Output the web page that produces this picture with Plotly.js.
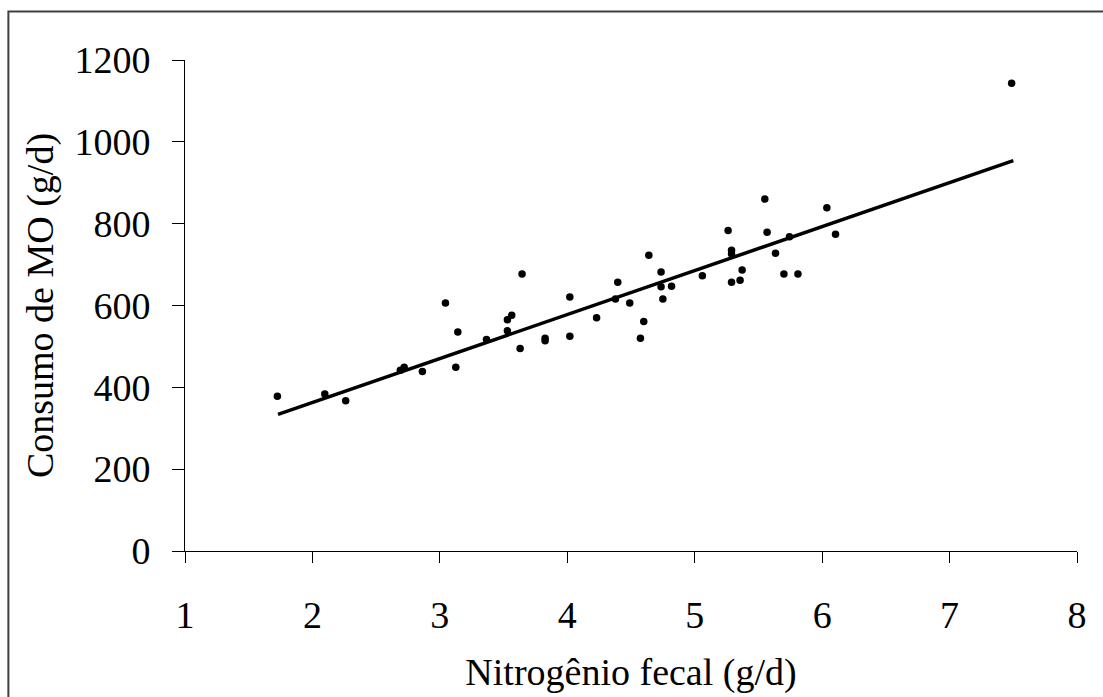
<!DOCTYPE html>
<html>
<head>
<meta charset="utf-8">
<script src="https://cdn.plot.ly/plotly-3.0.1.min.js"></script>
<style>html,body{margin:0;padding:0;background:#fff;}#chart{width:1103px;height:697px;}</style>
</head>
<body>
<div id="chart"></div>
<script>
// Observed points: fecal nitrogen (g/d) vs organic matter intake (g/d)
const nitrogenX = [1.725, 2.097, 2.261, 2.69, 2.72, 2.863, 3.044, 3.141, 3.125, 3.366,
  3.645, 3.53, 3.53, 3.564, 3.63, 3.826, 3.826, 4.02, 4.02, 4.23,
  4.378, 4.396, 4.49, 4.64, 4.574, 4.60, 4.736, 4.736, 4.818, 4.75,
  5.06, 5.55, 5.262, 5.289, 5.289, 5.568, 5.289, 5.356, 5.372, 5.634,
  5.70, 5.81, 5.744, 6.037, 6.105, 7.487];
const consumoY = [378, 384, 367, 442, 449, 439, 606, 535, 449, 517,
  677, 538, 565, 576, 495, 520, 514, 621, 525, 570,
  616, 657, 606, 723, 520, 561, 682, 646, 647, 616,
  673, 860, 783, 726, 735, 779, 657, 662, 687, 728,
  677, 677, 768, 839, 774, 1143];
// Regression line end points
const trendX = [1.73, 7.50];
const trendY = [334, 954];
const xTicks = [1, 2, 3, 4, 5, 6, 7, 8];
const yTicks = [0, 200, 400, 600, 800, 1000, 1200];

const font = {family: '"Liberation Serif", "Times New Roman", serif', color: '#000'};

const traces = [
  {x: trendX, y: trendY, type: 'scatter', mode: 'lines',
   line: {color: '#000', width: 3.5}, hoverinfo: 'skip', showlegend: false},
  {x: nitrogenX, y: consumoY, type: 'scatter', mode: 'markers',
   marker: {color: '#000', size: 7.5}, showlegend: false}
];

const layout = {
  width: 1103, height: 697,
  margin: {l: 185, r: 26, t: 60, b: 146, pad: 0},
  paper_bgcolor: '#fff', plot_bgcolor: '#fff',
  font: Object.assign({size: 38}, font),
  showlegend: false,
  xaxis: {
    range: [1, 8], tickvals: xTicks, ticktext: xTicks.map(String),
    showgrid: false, zeroline: false, showline: true, linecolor: '#000', linewidth: 1,
    ticks: 'outside', ticklen: 11, tickwidth: 1, tickcolor: '#000',
    ticklabelstandoff: 19,
    tickfont: Object.assign({size: 38}, font),
    title: {text: 'Nitrogênio fecal (g/d)', font: Object.assign({size: 38}, font), standoff: 23},
    fixedrange: true
  },
  yaxis: {
    range: [0, 1200], tickvals: yTicks, ticktext: yTicks.map(String),
    showgrid: false, zeroline: false, showline: true, linecolor: '#000', linewidth: 1,
    ticks: 'outside', ticklen: 12, tickwidth: 1, tickcolor: '#000',
    ticklabelstandoff: 14,
    tickfont: Object.assign({size: 38}, font),
    title: {text: 'Consumo de MO (g/d)', font: Object.assign({size: 38}, font), standoff: 9},
    fixedrange: true
  },
  shapes: [
    {type: 'rect', xref: 'paper', yref: 'paper', x0: -0.198, x1: 1.2, y0: -0.5, y1: 1.0988,
     line: {color: '#404040', width: 2}, fillcolor: 'rgba(0,0,0,0)', layer: 'below'}
  ]
};

Plotly.newPlot('chart', traces, layout, {displayModeBar: false, staticPlot: true});
</script>
</body>
</html>
